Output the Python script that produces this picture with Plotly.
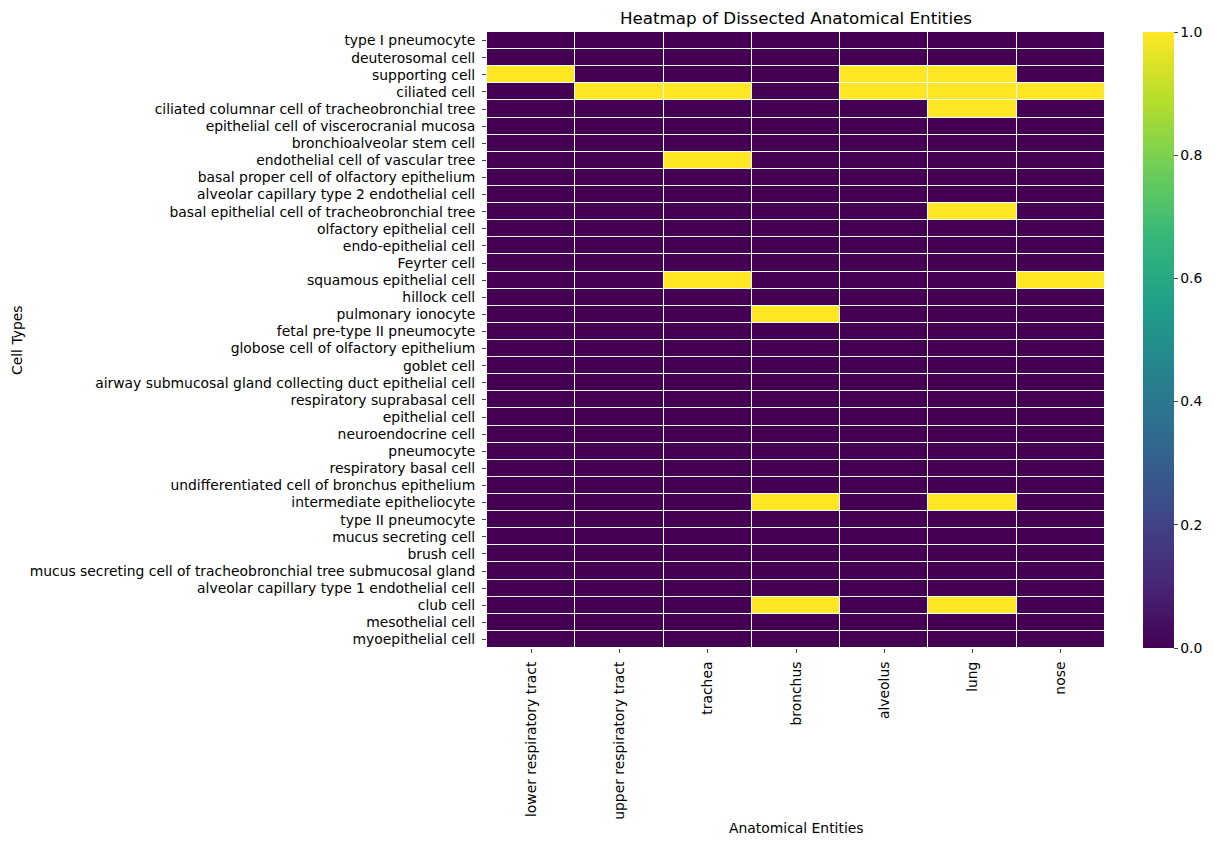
import plotly.graph_objects as go

entities = ["lower respiratory tract", "upper respiratory tract", "trachea", "bronchus",
            "alveolus", "lung", "nose"]
cell_types = [
    "type I pneumocyte", "deuterosomal cell", "supporting cell", "ciliated cell",
    "ciliated columnar cell of tracheobronchial tree", "epithelial cell of viscerocranial mucosa",
    "bronchioalveolar stem cell", "endothelial cell of vascular tree",
    "basal proper cell of olfactory epithelium", "alveolar capillary type 2 endothelial cell",
    "basal epithelial cell of tracheobronchial tree", "olfactory epithelial cell",
    "endo-epithelial cell", "Feyrter cell", "squamous epithelial cell", "hillock cell",
    "pulmonary ionocyte", "fetal pre-type II pneumocyte", "globose cell of olfactory epithelium",
    "goblet cell", "airway submucosal gland collecting duct epithelial cell",
    "respiratory suprabasal cell", "epithelial cell", "neuroendocrine cell", "pneumocyte",
    "respiratory basal cell", "undifferentiated cell of bronchus epithelium",
    "intermediate epitheliocyte", "type II pneumocyte", "mucus secreting cell", "brush cell",
    "mucus secreting cell of tracheobronchial tree submucosal gland",
    "alveolar capillary type 1 endothelial cell", "club cell", "mesothelial cell",
    "myoepithelial cell",
]
present = {
    "supporting cell": ["lower respiratory tract", "alveolus", "lung"],
    "ciliated cell": ["upper respiratory tract", "trachea", "alveolus", "lung", "nose"],
    "ciliated columnar cell of tracheobronchial tree": ["lung"],
    "endothelial cell of vascular tree": ["trachea"],
    "basal epithelial cell of tracheobronchial tree": ["lung"],
    "squamous epithelial cell": ["trachea", "nose"],
    "pulmonary ionocyte": ["bronchus"],
    "intermediate epitheliocyte": ["bronchus", "lung"],
    "club cell": ["bronchus", "lung"],
}

z = [[1 if e in present.get(c, []) else 0 for e in entities] for c in cell_types]

L, R, T, B = 487, 1105, 32, 648
W = R - L
H = B - T

fig = go.Figure(go.Heatmap(
    z=z, x=entities, y=cell_types, colorscale="Viridis", zmin=0, zmax=1,
    xgap=1, ygap=1,
    colorbar=dict(x=(1143 - L) / W, xanchor="left", thickness=31, len=1, lenmode="fraction",
                  y=0.5, yanchor="middle", outlinewidth=0, ticks="outside", ticklen=4,
                  xpad=0, ypad=0,
                  tickvals=[0, 0.2, 0.4, 0.6, 0.8, 1.0],
                  ticktext=["0.0", "0.2", "0.4", "0.6", "0.8", "1.0"],
                  tickfont=dict(size=13.9, color="#000")),
))

fig.update_layout(
    width=1215, height=846,
    margin=dict(l=L, r=1215 - R, t=T, b=846 - B, autoexpand=False),
    plot_bgcolor="white", paper_bgcolor="white",
    font=dict(family="DejaVu Sans", size=13.9, color="#000"),
    title=dict(text="Heatmap of Dissected Anatomical Entities", x=(L + R) / 2 / 1215,
               xanchor="center", y=1 - 18 / 846, yanchor="middle", font=dict(size=16.7)),
    xaxis=dict(tickangle=-90, ticks="outside", ticklen=4, showgrid=False, zeroline=False,
               tickfont=dict(size=13.9), ticklabelstandoff=3),
    yaxis=dict(autorange="reversed", ticks="outside", ticklen=4, showgrid=False,
               zeroline=False, tickfont=dict(size=13.9), ticklabelstandoff=4),
    annotations=[
        dict(text="Anatomical Entities", xref="paper", yref="paper", x=0.5, y=-(828 - B) / H,
             xanchor="center", yanchor="middle", showarrow=False, font=dict(size=13.9)),
        dict(text="Cell Types", xref="paper", yref="paper", x=-(L - 17) / W, y=0.5,
             xanchor="center", yanchor="middle", textangle=-90, showarrow=False,
             font=dict(size=13.9)),
    ],
)

fig.write_html("out.html")
